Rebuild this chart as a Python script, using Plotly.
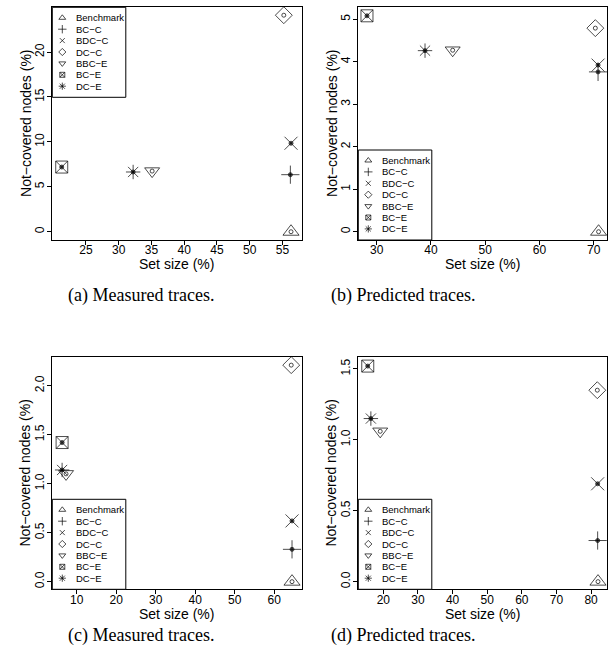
import plotly.graph_objects as go

W, H = 611, 666

# ---------------- data ----------------
series = ["Benchmark", "BC\u2212C", "BDC\u2212C", "DC\u2212C", "BBC\u2212E", "BC\u2212E", "DC\u2212E"]

a_x = [56.3, 56.2, 56.3, 55.2, 35.1, 21.3, 32.2]
a_y = [0.0, 6.35, 9.85, 24.1, 6.75, 7.2, 6.65]

b_x = [70.9, 70.8, 70.8, 70.3, 44.0, 28.2, 38.9]
b_y = [0.0, 3.76, 3.92, 4.79, 4.27, 5.08, 4.26]

c_x = [64.5, 64.5, 64.5, 64.3, 7.3, 6.3, 6.3]
c_y = [0.0, 0.33, 0.62, 2.21, 1.10, 1.42, 1.14]

d_x = [82.0, 81.9, 81.9, 81.8, 19.1, 15.5, 16.4]
d_y = [0.0, 0.29, 0.69, 1.35, 1.06, 1.52, 1.15]

a_xticks = [25, 30, 35, 40, 45, 50, 55]
a_yticks = [0, 5, 10, 15, 20]
b_xticks = [30, 40, 50, 60, 70]
b_yticks = [0, 1, 2, 3, 4, 5]
c_xticks = [10, 20, 30, 40, 50, 60]
c_yticks = [0.0, 0.5, 1.0, 1.5, 2.0]
d_xticks = [20, 30, 40, 50, 60, 70, 80]
d_yticks = [0.0, 0.5, 1.0, 1.5]

captions = ["(a) Measured traces.", "(b) Predicted traces.",
            "(c) Measured traces.", "(d) Predicted traces."]
x_title = "Set size (%)"
y_title = "Not\u2212covered nodes (%)"

# ---------------- styles ----------------
SANS = "Liberation Sans, Arial, sans-serif"
SERIF = "Liberation Serif, Times New Roman, serif"

big_sym = ["triangle-up-open", "cross-thin-open", "x-thin-open", "diamond-open",
           "triangle-down-open", "square-x-open", "asterisk-open"]
big_size = [14, 13, 13, 13, 13, 12, 12]
dot_sym = ["circle-open", "circle", "circle", "circle-open", "circle-open", "circle", "circle"]
dot_size = [4, 4, 4, 4, 4, 4, 4]
leg_size = [6, 6, 5, 5.5, 6, 5, 6]

# panel layout (pixels)
panels = [
    dict(x=a_x, y=a_y, xt=a_xticks, yt=a_yticks, fmt="d",
         px=(52.3, 301.5), py=(7.3, 240.0), xr=[19.86, 57.9], yr=[-0.92, 24.98],
         leg="top", cap=(141, 295), xtitle_y=264),
    dict(x=b_x, y=b_y, xt=b_xticks, yt=b_yticks, fmt="d",
         px=(358.3, 607.0), py=(7.3, 240.0), xr=[26.6, 72.45], yr=[-0.195, 5.28],
         leg="bottom", cap=(403, 295), xtitle_y=264),
    dict(x=c_x, y=c_y, xt=c_xticks, yt=c_yticks, fmt=".1f",
         px=(52.3, 301.5), py=(357.3, 589.3), xr=[3.82, 66.9], yr=[-0.078, 2.29],
         leg="bottom", cap=(141, 635), xtitle_y=614),
    dict(x=d_x, y=d_y, xt=d_xticks, yt=d_yticks, fmt=".1f",
         px=(358.3, 607.0), py=(357.3, 589.3), xr=[12.77, 84.6], yr=[-0.054, 1.582],
         leg="bottom", cap=(403, 635), xtitle_y=614),
]

fig = go.Figure()
layout = dict(width=W, height=H, margin=dict(l=0, r=0, t=0, b=0),
              paper_bgcolor="white", plot_bgcolor="rgba(0,0,0,0)", showlegend=False)
annotations = []
shapes = []

def px2paper_x(v):
    return v / W

def px2paper_y(v):
    return 1 - v / H

for i, p in enumerate(panels):
    k = i + 1
    xa = "x" if k == 1 else f"x{k}"
    ya = "y" if k == 1 else f"y{k}"
    common = dict(showline=True, linecolor="black", linewidth=1, mirror=True,
                  ticks="outside", ticklen=4, tickwidth=1, tickcolor="black",
                  showgrid=False, zeroline=False,
                  tickfont=dict(family=SANS, size=12, color="black"), fixedrange=True)
    layout["xaxis" if k == 1 else f"xaxis{k}"] = dict(
        common, domain=[px2paper_x(p["px"][0]), px2paper_x(p["px"][1])],
        range=p["xr"], tickvals=p["xt"], anchor=ya, ticklabelstandoff=-5)
    layout["yaxis" if k == 1 else f"yaxis{k}"] = dict(
        common, domain=[px2paper_y(p["py"][1]), px2paper_y(p["py"][0])],
        range=p["yr"], tickvals=p["yt"], tickformat=p["fmt"], tickangle=-90, anchor=xa,
        ticklabelstandoff=-1)

    fig.add_trace(go.Scatter(
        x=p["x"], y=p["y"], mode="markers", xaxis=xa, yaxis=ya, cliponaxis=False,
        marker=dict(symbol=big_sym, size=big_size, color="black",
                    line=dict(color="black", width=1)),
        hoverinfo="skip"))
    fig.add_trace(go.Scatter(
        x=p["x"], y=p["y"], mode="markers", xaxis=xa, yaxis=ya, cliponaxis=False,
        marker=dict(symbol=dot_sym, size=dot_size, color="black",
                    line=dict(color="black", width=1)),
        hoverinfo="skip"))

    # axis titles
    cx = (p["px"][0] + p["px"][1]) / 2
    cy = (p["py"][0] + p["py"][1]) / 2
    annotations.append(dict(x=px2paper_x(cx), y=px2paper_y(p["xtitle_y"]), xref="paper", yref="paper",
                            text=x_title, showarrow=False, xanchor="center", yanchor="middle",
                            font=dict(family=SANS, size=14, color="black")))
    annotations.append(dict(x=px2paper_x(p["px"][0] - 27), y=px2paper_y(cy), xref="paper", yref="paper",
                            text=y_title, showarrow=False, textangle=-90, xanchor="center", yanchor="middle",
                            font=dict(family=SANS, size=14, color="black")))
    # caption
    annotations.append(dict(x=px2paper_x(p["cap"][0]), y=px2paper_y(p["cap"][1]), xref="paper", yref="paper",
                            text=captions[i], showarrow=False, xanchor="center", yanchor="middle",
                            font=dict(family=SERIF, size=18, color="black")))

    # manual legend (in overlay pixel axis x5/y5)
    lw, lh = 73.5, 90.0
    left = p["px"][0]
    top = p["py"][0] if p["leg"] == "top" else p["py"][1] - lh
    shapes.append(dict(type="rect", xref="x5", yref="y5", x0=left, x1=left + lw,
                       y0=top, y1=top + lh, line=dict(color="black", width=1),
                       fillcolor="white", layer="below"))
    rows = [top + 10.5 + j * 11.4 for j in range(len(series))]
    fig.add_trace(go.Scatter(
        x=[left + 10] * len(series), y=rows, mode="markers", xaxis="x5", yaxis="y5",
        cliponaxis=False,
        marker=dict(symbol=big_sym, size=leg_size, color="black",
                    line=dict(color="black", width=1)),
        hoverinfo="skip"))
    for j, name in enumerate(series):
        annotations.append(dict(x=left + 22, y=rows[j], xref="x5", yref="y5", text=name,
                                showarrow=False, xanchor="left", yanchor="middle",
                                font=dict(family=SANS, size=9.5, color="black")))

layout["xaxis5"] = dict(domain=[0, 1], range=[0, W], visible=False, fixedrange=True, anchor="y5")
layout["yaxis5"] = dict(domain=[0, 1], range=[H, 0], visible=False, fixedrange=True, anchor="x5")
layout["annotations"] = annotations
layout["shapes"] = shapes
fig.update_layout(**layout)

fig.write_html("out.html", config={"displayModeBar": False},
               post_script="document.body.style.margin='0px';document.body.style.overflow='hidden';")
